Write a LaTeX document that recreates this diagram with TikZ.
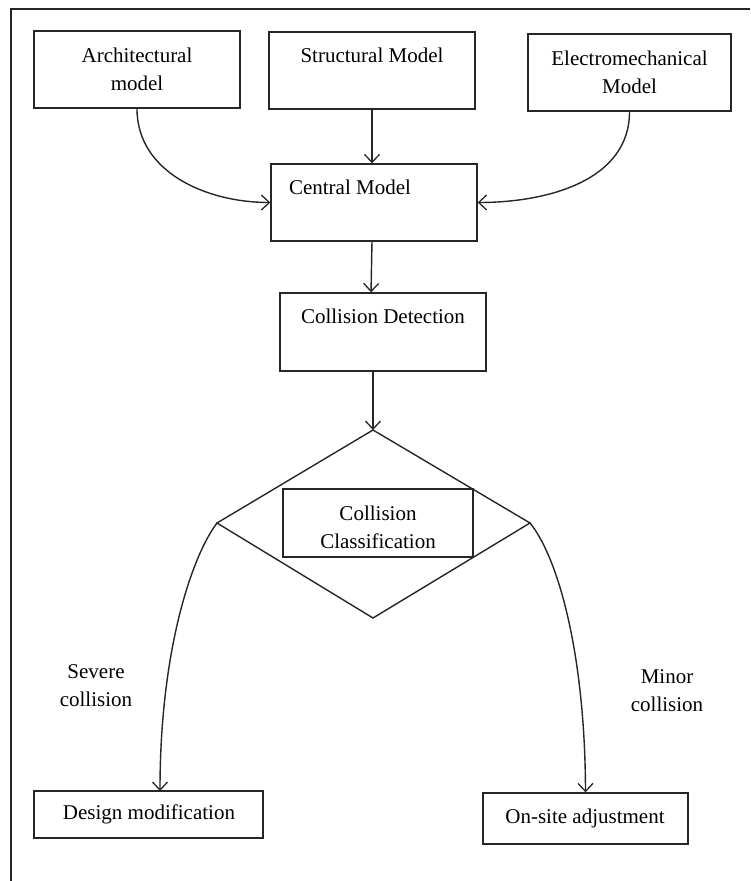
\documentclass[tikz,border=0pt]{standalone}
\usepackage{fontspec}
\setmainfont{Liberation Serif}
\usetikzlibrary{arrows.meta}
\begin{document}
\begin{tikzpicture}[x=1pt,y=-1pt,
  box/.style={draw=black!85, line width=1.4pt, inner sep=0pt, fill=white},
  txt/.style={font=\fontsize{21}{28}\selectfont, align=center, inner sep=0pt},
  arr/.style={draw=black!85, line width=1.4pt, -{Straight Barb[length=8pt,width=15pt,line width=1.3pt]}},
  ln/.style={draw=black!85, line width=1.4pt}
]
\useasboundingbox (0,0) rectangle (750,881);
\begin{scope}
\clip (0,0) rectangle (750,881);
\draw[black!85,line width=1.4pt] (11,9) rectangle (800,950);
\end{scope}

% top boxes
\node[box, minimum width=206pt, minimum height=77pt] (arch) at (137,69.5) {};
\node[txt] (archt) at (137,69) {Architectural\\model};
\node[box, minimum width=206pt, minimum height=77pt] (struct) at (372,70.5) {};
\node[txt] (structt) at (372,55) {Structural Model};
\node[box, minimum width=203pt, minimum height=77pt] (elec) at (629.5,72.5) {};
\node[txt] (elect) at (629.5,72) {Electromechanical\\Model};

% central
\node[box, minimum width=206pt, minimum height=77pt] (central) at (374,202.5) {};
\node[txt] (centralt) at (350,187) {Central Model};

% detection
\node[box, minimum width=206pt, minimum height=78pt] (detect) at (383,332) {};
\node[txt] (detectt) at (383,316) {Collision Detection};

% diamond
\coordinate (dt) at (373,430);
\coordinate (dl) at (217,523);
\coordinate (dr) at (530,523);
\coordinate (db) at (373,618);
\draw[ln] (dt) -- (dr) -- (db) -- (dl) -- cycle;
\node[box, minimum width=190pt, minimum height=68pt] (classif) at (378,523) {};
\node[txt] (classift) at (378,527) {Collision\\Classification};

% bottom boxes
\node[box, minimum width=229pt, minimum height=47pt] (design) at (148.5,814.5) {};
\node[txt] (designt) at (149,814) {Design modification};
\node[box, minimum width=205pt, minimum height=51pt] (onsite) at (585.5,818.5) {};
\node[txt] (onsitet) at (585,818) {On-site adjustment};

% labels
\node[txt] (severe) at (96,686) {Severe\\collision};
\node[txt] (minor) at (667,691) {Minor\\collision};

% connectors
\draw[arr] (arch.south) to[out=-90,in=180] (central.west);
\draw[arr] (elec.south) to[out=-90,in=0] (central.east);
\draw[arr] (struct.south) -- (struct.south |- central.north);
\draw[arr] (central.south -| 372,0) -- (detect.north -| 371,0);
\draw[arr] (detect.south -| dt) -- (dt);
\coordinate (e1) at (160,791);
\draw[arr] (dl) .. controls (192,556) and (160,650) .. (e1);
\draw[arr] (dr) .. controls (557,556) and (585,650) .. (onsite.north);
\end{tikzpicture}
\end{document}
